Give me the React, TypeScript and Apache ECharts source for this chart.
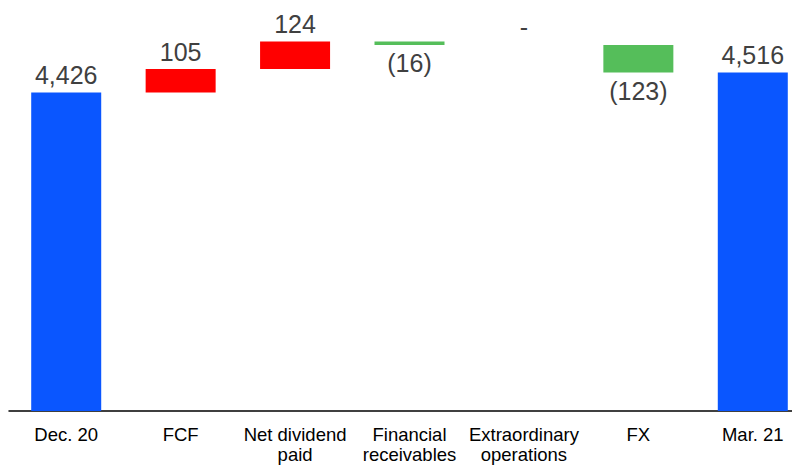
import React, { useEffect, useRef } from "react";
import * as echarts from "echarts";

const categories = [
  "Dec. 20",
  "FCF",
  "Net dividend\npaid",
  "Financial\nreceivables",
  "Extraordinary\noperations",
  "FX",
  "Mar. 21",
];
const startValue = 4426;
const endValue = 4516;
// changes between the two totals (null = total column)
const changes: (number | null)[] = [null, 105, 124, -16, 0, -123, null];

const fmtThousands = (v: number) => v.toLocaleString("en-US");

export default function App() {
  const ref = useRef<HTMLDivElement>(null);

  useEffect(() => {
    if (!ref.current) return;
    const chart = echarts.init(ref.current, null, { renderer: "svg" });

    const placeholder: any[] = [];
    const totals: any[] = [];
    const inc: any[] = [];
    const dec: any[] = [];
    let running = startValue;
    changes.forEach((c, i) => {
      if (c === null) {
        const v = i === 0 ? startValue : endValue;
        placeholder.push(0);
        totals.push(v);
        inc.push("-");
        dec.push("-");
      } else if (c >= 0) {
        placeholder.push(running);
        totals.push("-");
        inc.push(c);
        dec.push("-");
        running += c;
      } else {
        running += c;
        placeholder.push(running);
        totals.push("-");
        inc.push("-");
        dec.push(-c);
      }
    });

    const labelBase = {
      show: true,
      color: "#404040",
      fontSize: 25,
      fontFamily: "Liberation Sans, Arial, sans-serif",
    };

    chart.setOption({
      animation: false,
      grid: {
        left: 9,
        width: 801,
        top: 9,
        bottom: 55,
        containLabel: false,
        outerBoundsMode: "none",
      },
      xAxis: {
        type: "category",
        data: categories,
        axisLine: { show: true, lineStyle: { color: "#000", width: 1.5 } },
        axisTick: { show: false },
        axisLabel: {
          interval: 0,
          color: "#000",
          fontSize: 18.5,
          lineHeight: 20,
          margin: 13,
          fontFamily: "Liberation Sans, Arial, sans-serif",
        },
      },
      yAxis: {
        type: "value",
        min: 3000,
        max: 4800,
        show: false,
        splitLine: { show: false },
      },
      series: [
        {
          name: "base",
          type: "bar",
          stack: "w",
          barWidth: 70,
          itemStyle: { color: "transparent" },
          emphasis: { disabled: true },
          data: placeholder,
        },
        {
          name: "total",
          type: "bar",
          stack: "w",
          barWidth: 70,
          itemStyle: { color: "#0A56FF" },
          label: {
            ...labelBase,
            position: "top",
            distance: 5,
            formatter: (p: any) => fmtThousands(p.value),
          },
          data: totals,
        },
        {
          name: "increase",
          type: "bar",
          stack: "w",
          barWidth: 70,
          itemStyle: { color: "#FF0000" },
          label: {
            ...labelBase,
            position: "top",
            distance: 5,
            formatter: (p: any) => (p.value === 0 ? "-" : fmtThousands(p.value)),
          },
          data: inc,
        },
        {
          name: "decrease",
          type: "bar",
          stack: "w",
          barWidth: 70,
          itemStyle: { color: "#55BE5A" },
          label: {
            ...labelBase,
            position: "bottom",
            distance: 6,
            formatter: (p: any) => "(" + fmtThousands(p.value) + ")",
          },
          data: dec,
        },
      ],
    });

    return () => chart.dispose();
  }, []);

  return <div ref={ref} style={{ width: 792, height: 466, position: "absolute", left: 0, top: 0 }} />;
}
